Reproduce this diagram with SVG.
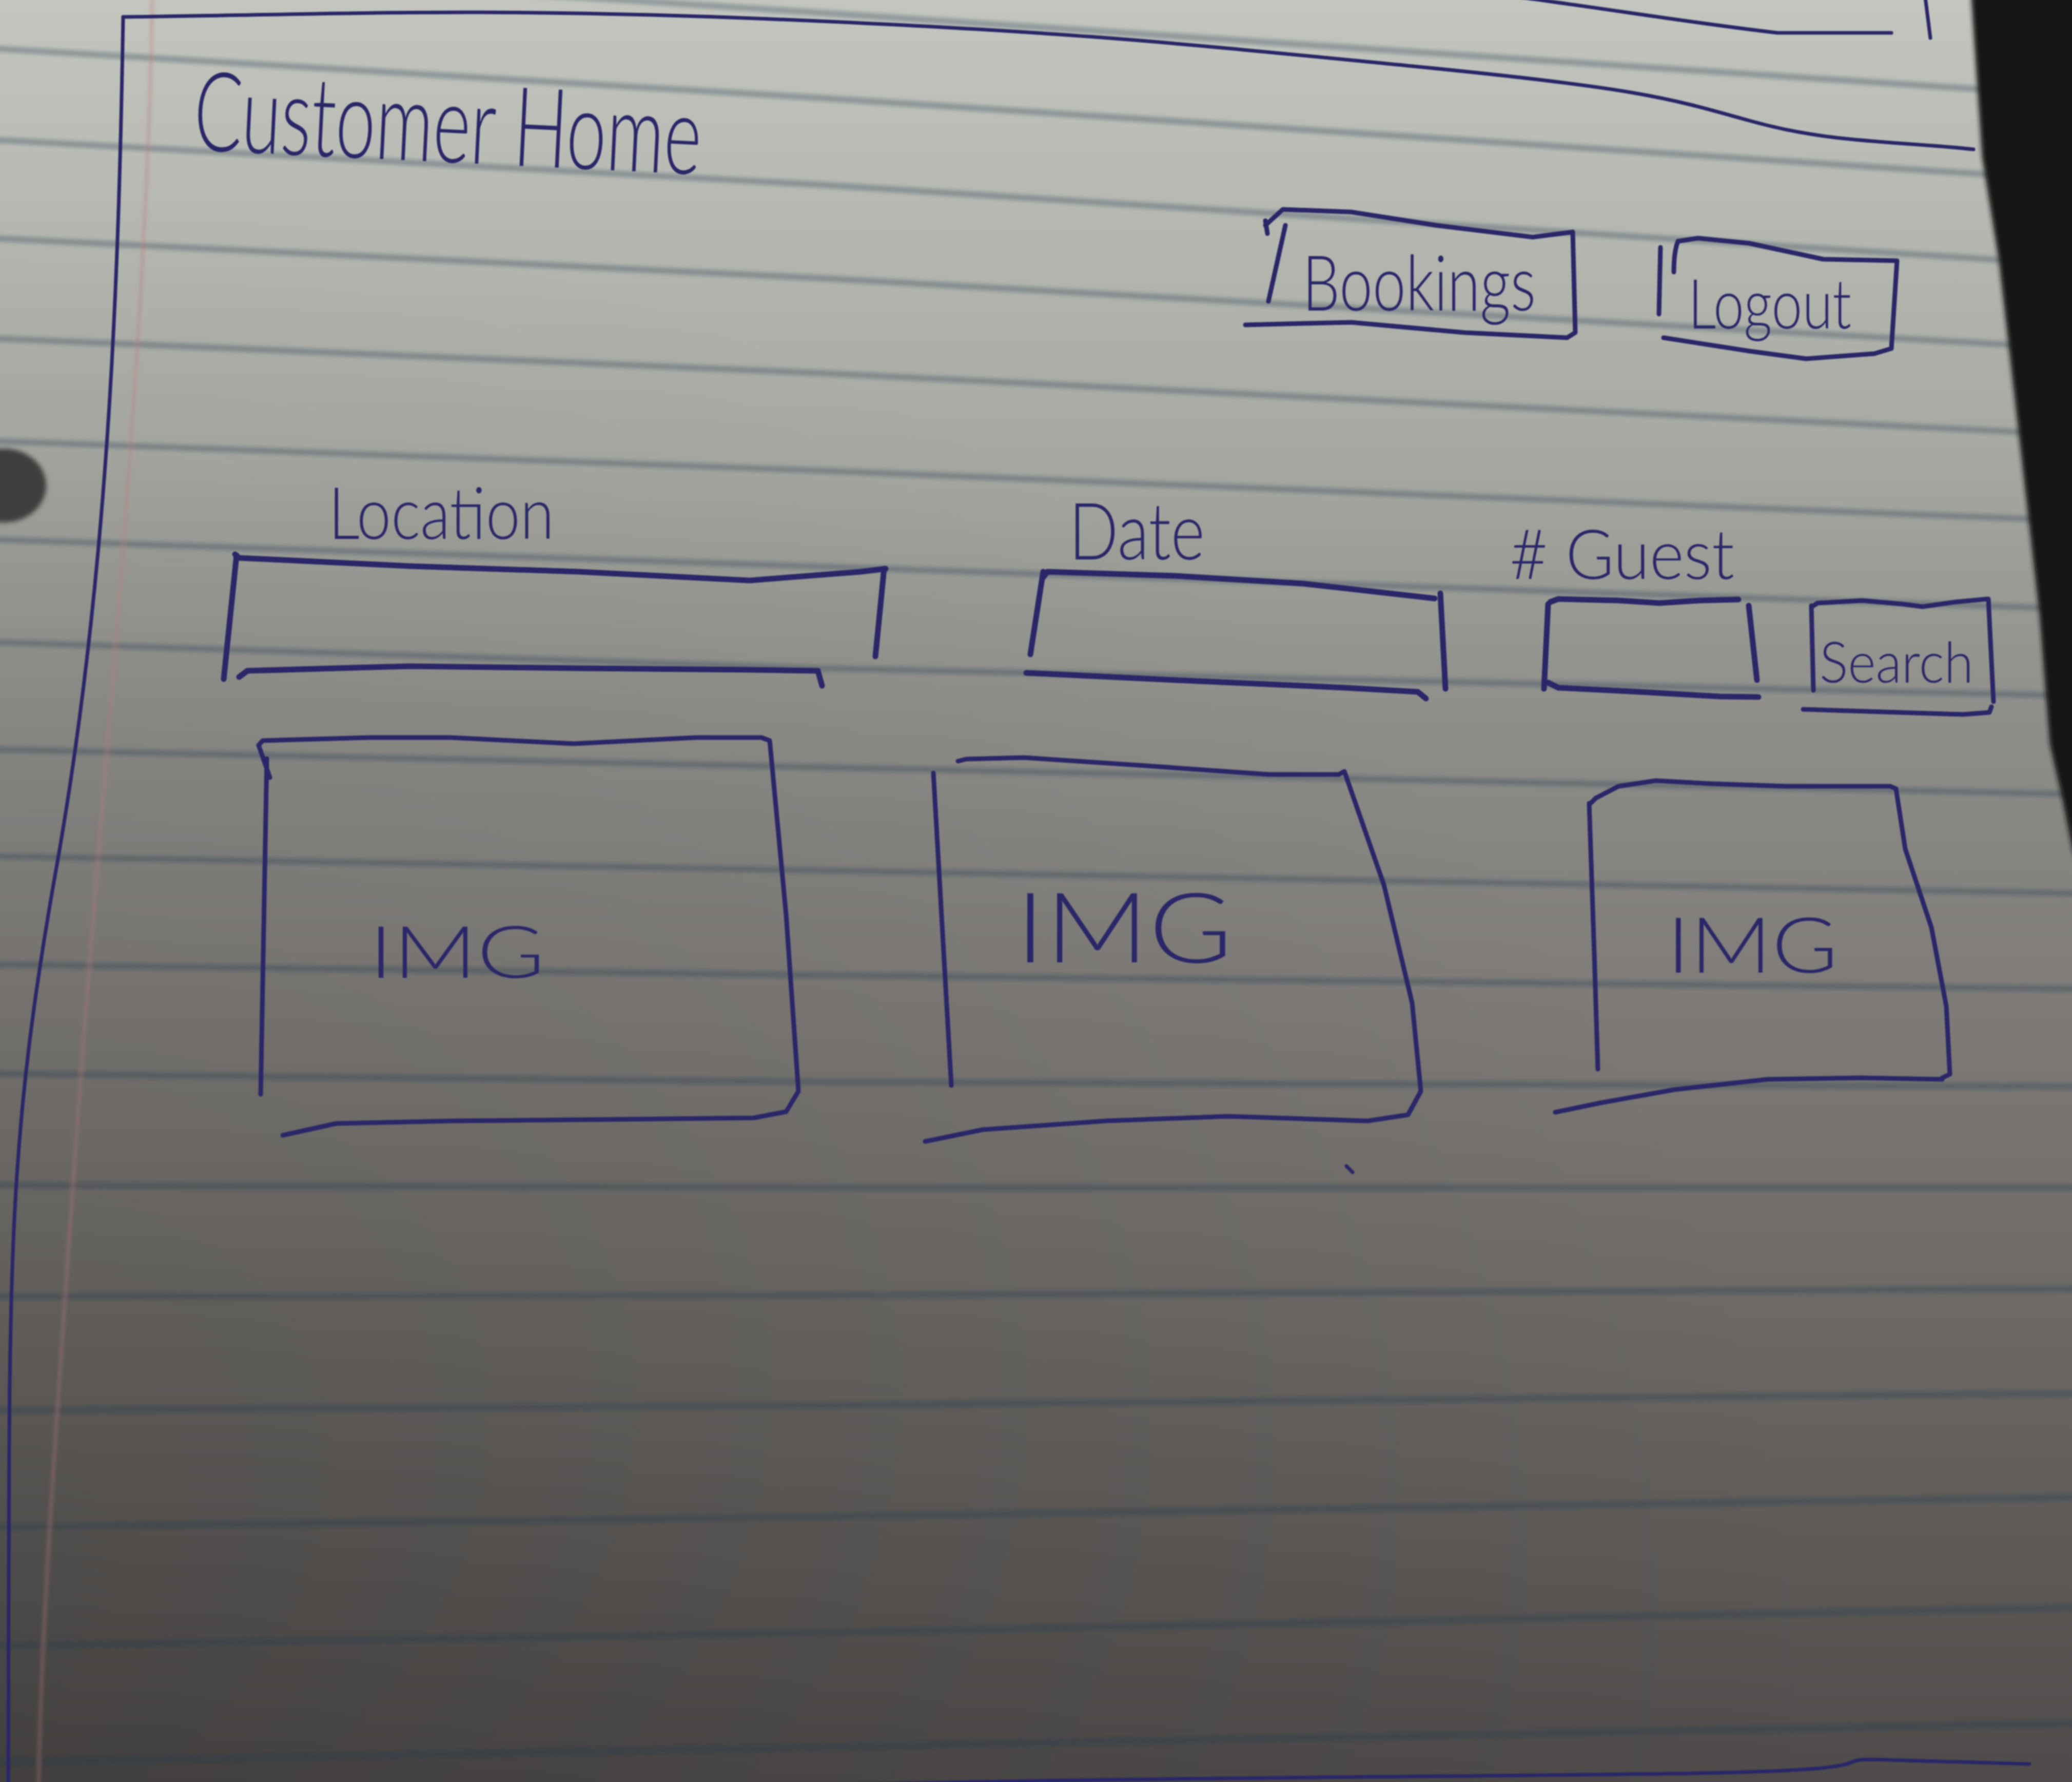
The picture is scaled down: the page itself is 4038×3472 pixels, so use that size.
<svg xmlns="http://www.w3.org/2000/svg" width="4038" height="3472" viewBox="0 0 4038 3472">
  <defs>
    <linearGradient id="paper" x1="0" y1="0" x2="0" y2="1">
      <stop offset="0" stop-color="#c3c5be"/>
      <stop offset="0.25" stop-color="#a8a9a3"/>
      <stop offset="0.4" stop-color="#8f8e8a"/>
      <stop offset="0.55" stop-color="#7f7c79"/>
      <stop offset="0.75" stop-color="#6a6764"/>
      <stop offset="1" stop-color="#4e4b4a"/>
    </linearGradient>
    <radialGradient id="shade" cx="0" cy="1" r="0.9">
      <stop offset="0" stop-color="#000" stop-opacity="0.16"/>
      <stop offset="1" stop-color="#000" stop-opacity="0"/>
    </radialGradient>
    <filter id="soft" x="-5%" y="-5%" width="110%" height="110%"><feGaussianBlur stdDeviation="3"/></filter>
    <filter id="edge" x="-20%" y="-20%" width="140%" height="140%"><feGaussianBlur stdDeviation="5"/></filter>
    <filter id="ink" x="-5%" y="-5%" width="110%" height="110%"><feGaussianBlur stdDeviation="1.2"/></filter>
  </defs>
  <style>
    .rule{fill:none;stroke:#1e3c50;stroke-opacity:.3;stroke-width:12}
    .pen{fill:none;stroke:#2a2868;stroke-width:9;stroke-linecap:round;stroke-linejoin:round}
    .bold{stroke-width:11}
    .thin{stroke-width:7}
    .hand{fill:#2a2868;font-family:Lato,'Open Sans','DejaVu Sans',sans-serif;font-weight:300}
  </style>

  <!-- paper -->
  <rect width="4038" height="3472" fill="url(#paper)"/>
  <rect width="4038" height="3472" fill="url(#shade)"/>

  <!-- ruled lines -->
  <g id="ruling" filter="url(#soft)">
    <path class="rule" d="M-20 -80 L1600 25 L3800 170 L4060 187"/>
    <path class="rule" d="M-20 94 L1600 191 L3800 335 L4060 352"/>
    <path class="rule" d="M-20 272 L1600 360 L3800 500 L4060 517"/>
    <path class="rule" d="M-20 464 L1600 542 L3800 665 L4060 680"/>
    <path class="rule" d="M-20 659 L1600 727 L3800 835 L4060 848"/>
    <path class="rule" d="M-20 859 L1600 917 L3800 1005 L4060 1015"/>
    <path class="rule" d="M-20 1051 L1600 1104 L3800 1178 L4060 1187"/>
    <path class="rule" d="M-20 1251 L1600 1302 L3800 1350 L4060 1356"/>
    <path class="rule" d="M-20 1460 L1600 1495 L3800 1542 L4060 1548"/>
    <path class="rule" d="M-20 1668 L1600 1696 L3800 1736 L4060 1741"/>
    <path class="rule" d="M-20 1879 L1600 1900 L3800 1924 L4060 1927"/>
    <path class="rule" d="M-20 2092 L1600 2108 L3800 2116 L4060 2117"/>
    <path class="rule" d="M-20 2309 L1600 2314 L3800 2314 L4060 2314"/>
    <path class="rule" d="M-20 2526 L1600 2524 L3800 2512 L4060 2511"/>
    <path class="rule" d="M-20 2748 L1600 2738 L3800 2717 L4060 2715"/>
    <path class="rule" d="M-20 2976 L1600 2955 L3800 2921 L4060 2917"/>
    <path class="rule" d="M-20 3207 L1600 3181 L3800 3137 L4060 3132"/>
    <path class="rule" d="M-20 3434 L1600 3404 L3800 3362 L4060 3357"/>
    <!-- red margin -->
    <path d="M297 -5 C285 700 200 1500 150 2200 S80 3200 75 3480" fill="none" stroke="#b9787a" stroke-opacity=".35" stroke-width="7"/>
  </g>

  <!-- binder hole -->
  <ellipse cx="8" cy="946" rx="82" ry="72" fill="#403e3c" filter="url(#edge)"/>

  <!-- page frame drawn in pen -->
  <g id="frame" class="pen thin" filter="url(#ink)">
    <path d="M240 33 C600 30 900 12 1500 37 S2300 85 2743 128 S3250 190 3409 235 S3700 275 3846 291"/>
    <path d="M240 33 C232 500 215 1100 110 1690 S20 2500 16 3480"/>
    <path d="M2965 -5 C3150 20 3300 45 3464 64 L3686 64"/>
    <path d="M3752 -5 L3762 74"/>
    <path d="M1550 3480 C2200 3462 2900 3462 3300 3455 S3560 3428 3650 3428 L3955 3437"/>
    <path d="M2624 2272 L2636 2284"/>
  </g>

  <!-- page header -->
  <g id="title" filter="url(#ink)">
    <text class="hand" x="375" y="292" font-size="215" textLength="990" lengthAdjust="spacingAndGlyphs" transform="rotate(2.8 375 292)">Customer Home</text>
  </g>

  <!-- nav buttons -->
  <g id="btn-bookings" filter="url(#ink)">
    <path class="pen" d="M2466 439 L2500 408 L2633 413 L2799 439 L2987 462 L3065 452 M2466 430 L2470 455 M3065 452 L3070 648 L3054 658 M2427 633 L2633 628 L2854 648 L3054 658 M2505 439 L2472 587"/>
    <text class="hand" x="2538" y="605" font-size="150" textLength="455" lengthAdjust="spacingAndGlyphs">Bookings</text>
  </g>
  <g id="btn-logout" filter="url(#ink)">
    <path class="pen" d="M3270 470 L3309 464 L3409 474 L3553 505 L3697 508 M3270 470 Q3262 490 3262 530 M3236 482 L3233 612 M3697 508 L3686 679 L3653 689 M3242 658 L3409 684 L3520 699 L3653 689"/>
    <text class="hand" x="3290" y="640" font-size="135" textLength="318" lengthAdjust="spacingAndGlyphs">Logout</text>
  </g>

  <!-- search fields -->
  <g id="field-location" filter="url(#ink)">
    <text class="hand" x="640" y="1050" font-size="140" textLength="440" lengthAdjust="spacingAndGlyphs">Location</text>
    <path class="pen bold" d="M458 1080 L466 1087 L798 1103 L1129 1114 L1461 1131 L1677 1114 L1726 1108 M461 1082 L436 1323 M1723 1108 L1706 1279 M466 1319 L482 1307 L798 1298 L1129 1302 L1461 1305 L1594 1307 L1602 1336"/>
  </g>
  <g id="field-date" filter="url(#ink)">
    <text class="hand" x="2083" y="1090" font-size="155" textLength="265" lengthAdjust="spacingAndGlyphs">Date</text>
    <path class="pen bold" d="M2033 1125 L2041 1114 L2290 1122 L2539 1137 L2796 1166 M2033 1114 L2008 1275 M2807 1156 L2817 1342 M2000 1311 L2290 1325 L2622 1340 L2763 1348 L2779 1361"/>
  </g>
  <g id="field-guests" filter="url(#ink)">
    <text class="hand" x="2942" y="1128" font-size="135" textLength="438" lengthAdjust="spacingAndGlyphs"># Guest</text>
    <path class="pen bold" d="M3021 1173 L3037 1167 L3155 1170 L3234 1175 L3313 1170 L3388 1168 M3017 1177 L3009 1342 M3408 1180 L3424 1325 M3017 1330 L3037 1340 L3195 1348 L3352 1357 L3427 1358"/>
  </g>
  <g id="btn-search" filter="url(#ink)">
    <path class="pen" d="M3530 1183 L3542 1175 L3629 1170 L3708 1177 L3747 1182 L3810 1173 L3873 1167 M3530 1180 L3534 1345 M3875 1167 L3885 1367 M3514 1382 L3668 1387 L3826 1392 L3877 1388 L3881 1377"/>
    <text class="hand" x="3546" y="1330" font-size="110" textLength="300" lengthAdjust="spacingAndGlyphs">Search</text>
  </g>

  <!-- result cards -->
  <g id="card-1" filter="url(#ink)">
    <path class="pen" stroke-width="8" d="M504 1452 L512 1443 L719 1437 L878 1437 L1118 1449 L1357 1437 L1484 1437 L1500 1443 M504 1452 L526 1515 M520 1478 L508 2132 M1500 1443 L1532 1782 L1556 2126 L1532 2166 L1469 2178 M551 2212 L655 2189 L878 2184 L1197 2181 L1469 2178"/>
    <text class="hand" x="719" y="1905" font-size="140" textLength="343" lengthAdjust="spacingAndGlyphs">IMG</text>
  </g>
  <g id="card-2" filter="url(#ink)">
    <path class="pen" stroke-width="8" d="M1867 1483 L1883 1479 L1995 1476 L2234 1492 L2473 1509 L2609 1509 L2620 1503 M1819 1506 L1854 2115 M2620 1503 L2697 1724 L2752 1954 L2769 2126 L2744 2172 L2665 2184 M1803 2224 L1915 2201 L2154 2184 L2393 2175 L2665 2184"/>
    <text class="hand" x="1979" y="1875" font-size="190" textLength="423" lengthAdjust="spacingAndGlyphs">IMG</text>
  </g>
  <g id="card-3" filter="url(#ink)">
    <path class="pen" stroke-width="8" d="M3100 1565 L3110 1555 L3154 1532 L3227 1521 L3335 1527 L3481 1532 L3684 1532 L3695 1537 M3097 1565 L3107 1858 L3114 2083 M3695 1537 L3713 1654 L3764 1807 L3793 1960 L3800 2093 L3785 2100 M3031 2167 L3118 2149 L3263 2123 L3444 2103 L3626 2100 L3785 2103"/>
    <text class="hand" x="3248" y="1895" font-size="150" textLength="334" lengthAdjust="spacingAndGlyphs">IMG</text>
  </g>

  <!-- table surface beyond the page edge -->
  <path d="M3841 -20 L4060 -20 L4060 1720 L4038 1650 L4020 1560 L3995 1450 L3975 1200 L3935 850 L3896 510 L3863 306 Z" fill="#141212" filter="url(#edge)"/>
</svg>
